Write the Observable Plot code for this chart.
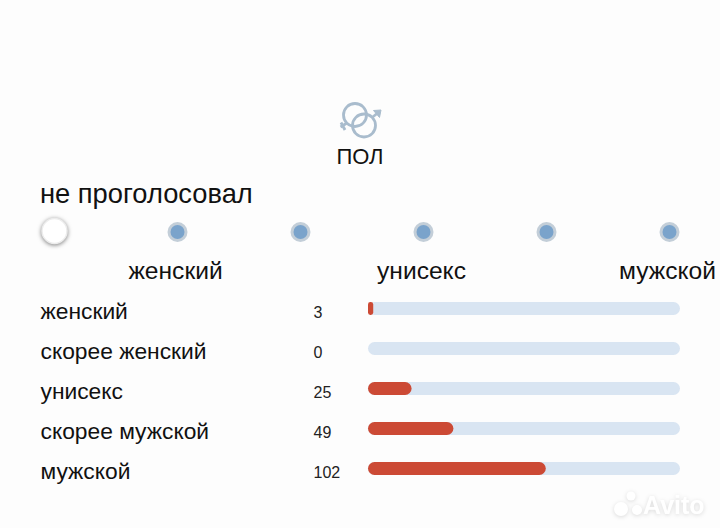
<!DOCTYPE html>
<html lang="ru">
<head>
<meta charset="utf-8">
<script src="https://cdn.jsdelivr.net/npm/d3@7"></script>
<script src="https://cdn.jsdelivr.net/npm/@observablehq/plot@0.6"></script>
<style>
html,body{margin:0;padding:0;background:#fdfdfd}
#page{position:relative;width:720px;height:528px;overflow:hidden;font-family:"Liberation Sans",sans-serif;color:#111}
#page>*{position:absolute}
#icon{left:335px;top:98px}
#pol{left:0;width:720px;text-align:center;top:144px;font-size:22px;line-height:26px}
#status{left:40px;top:179px;font-size:27.3px;line-height:30px}
#scale{left:0;top:210px}
#bars{left:0;top:288px}
#mark{left:612px;top:486px;width:100px;height:36px}
svg{background:transparent!important}
</style>
</head>
<body>
<div id="page">
  <svg id="icon" width="50" height="42" viewBox="0 0 50 42" fill="none" stroke="#a9bccd">
    <circle cx="20" cy="17" r="11.5" stroke-width="2.8"/>
    <circle cx="29" cy="27.5" r="11.5" stroke-width="2.8"/>
    <path d="M12 25 L5.5 29 M6 24.5 L10 32" stroke-width="2.8"/>
    <path d="M37 19.5 L44 14" stroke-width="2.8"/>
    <path d="M38.5 12.5 L46 12 L44.5 19.5 Z" fill="#a9bccd" stroke-width="1"/>
  </svg>
  <div id="pol">ПОЛ</div>
  <div id="status">не проголосовал</div>
  <svg id="mark" viewBox="0 0 100 36" style="filter:drop-shadow(0 1px 2px rgba(0,0,0,.14))">
    <g fill="#fff"><circle cx="9" cy="23" r="7"/><circle cx="19" cy="10" r="4.5"/><circle cx="25" cy="24" r="5"/></g>
    <text x="31" y="28" fill="#fff" font-family="Liberation Sans" font-weight="700" font-size="25">Avito</text>
  </svg>
</div>
<script>
const options = ["не проголосовал", "женский", "скорее женский", "унисекс", "скорее мужской", "мужской"];
const selectedOption = ["не проголосовал"];
const unselectedOptions = ["женский", "скорее женский", "унисекс", "скорее мужской", "мужской"];
const scaleLabels = ["женский", "унисекс", "мужской"];
const categories = ["женский", "скорее женский", "унисекс", "скорее мужской", "мужской"];
const votes = [3, 0, 25, 49, 102];
const total = d3.sum(votes);

const rows = categories.map((category, i) => ({category, votes: votes[i]}));
const page = document.getElementById("page");

const scale = Plot.plot({
  width: 720, height: 78, margin: 0,
  style: {background: "transparent", fontFamily: "Liberation Sans, sans-serif"},
  x: {type: "point", domain: options, range: [53, 669], padding: 0, axis: null},
  marks: [
    Plot.dot(unselectedOptions, {x: d => d, frameAnchor: "top", dy: 21.5, r: 10, fill: "#c3ced8"}),
    Plot.dot(unselectedOptions, {x: d => d, frameAnchor: "top", dy: 21.5, r: 7, fill: "#7aa3cb"}),
    Plot.dot(selectedOption, {x: d => d, frameAnchor: "top", dy: 20.5, r: 12.5, fill: "#fff", stroke: "#ececec",
      imageFilter: "drop-shadow(0 1px 2px rgba(0,0,0,.5))"}),
    Plot.text(scaleLabels, {x: d => d, frameAnchor: "top", lineAnchor: "middle", dy: 61, dx: -2, text: d => d, fontSize: 24.6, fill: "#111"})
  ]
});
scale.id = "scale";
page.appendChild(scale);

const bars = Plot.plot({
  width: 720, height: 200, margin: 0,
  style: {background: "transparent", fontFamily: "Liberation Sans, sans-serif"},
  x: {domain: [0, total], range: [368, 680], axis: null},
  y: {type: "band", domain: categories, range: [0, 200], paddingInner: 0.675, paddingOuter: 0.3375, axis: null},
  marks: [
    Plot.barX(rows, {x1: 0, x2: total, y: "category", fill: "#d9e5f2", rx: 6.5, ry: 6.5}),
    Plot.barX(rows.filter(d => d.votes >= 10), {x1: 0, x2: "votes", y: "category", fill: "#cc4a35", rx: 6.5, ry: 6.5}),
    Plot.barX(rows.filter(d => d.votes > 0 && d.votes < 10), {x1: 0, x2: "votes", y: "category", fill: "#cc4a35", rx: 2.4, ry: 2.4}),
    Plot.text(rows, {y: "category", text: "category", frameAnchor: "left", dx: 40, dy: 2.5, fontSize: 22.8, fill: "#111"}),
    Plot.text(rows, {y: "category", text: "votes", frameAnchor: "left", dx: 313, dy: 4, fontSize: 16, fill: "#222"})
  ]
});
bars.id = "bars";
page.appendChild(bars);
</script>
</body>
</html>
